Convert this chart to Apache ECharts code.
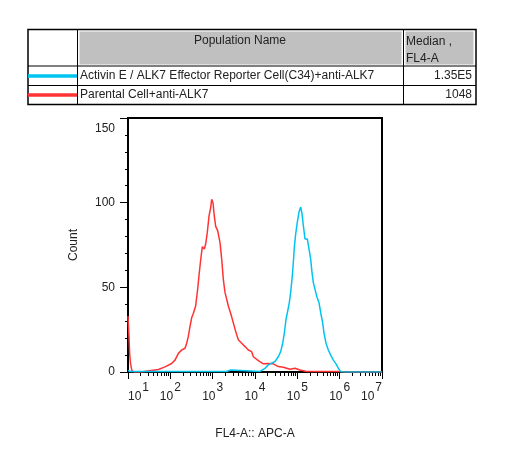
<!DOCTYPE html>
<html>
<head>
<meta charset="utf-8">
<script src="https://cdn.jsdelivr.net/npm/echarts@6/dist/echarts.min.js"></script>
<style>
html,body{margin:0;padding:0;background:#fff;}
#chart{width:505px;height:456px;}
</style>
</head>
<body>
<div id="chart"></div>
<script>
// FL4-A values (x) and counts (y)
var parentalX = [10, 10.5, 11, 11.5, 12.3, 14.1, 20, 20.9, 52.5, 74.8, 107.6, 128.8, 154.9, 185.4, 222.3, 243.2, 266.1, 291.7, 319.2, 349.1, 396.3, 442.6, 475.3, 520, 570.2, 635.3, 683.9, 748.2, 818.5, 897.5, 946.2, 1018, 1094, 1178, 1312, 1489, 1633, 1786, 1954, 2143, 2344, 2710, 3076, 3491, 4036, 4842, 5808, 6950, 8337, 9141, 11995, 15740, 20654, 27101, 35563, 46774, 67143, 88105, 115611, 165959, 1023293, 1258925, 10000000];
var parentalY = [33, 22, 10, 5, 1, 0, 0, 1, 1.5, 3, 5, 7, 11, 13, 14, 17, 21, 27, 32, 34.5, 39, 49, 57, 66, 74, 72.6, 75.6, 82.6, 92, 97, 102, 100, 92, 86, 83.5, 76.6, 66.7, 54.7, 47, 43, 39, 34, 29, 24, 19, 17, 15, 13, 12, 9, 6.7, 4.8, 5, 4.8, 3.2, 2.8, 1.6, 2.2, 1.2, 0.3, 0.3, 0, 0];

var reporterX = [10, 11.2, 2138, 2239, 2692, 2818, 13122, 17219, 20654, 24774, 29717, 35563, 40365, 45082, 49317, 53951, 59156, 64714, 69663, 76208, 80538, 85114, 91411, 100000, 109648, 120226, 128825, 138676, 151705, 172187, 191867, 206538, 222331, 238781, 261818, 286418, 325087, 356451, 397192, 426580, 475335, 539511, 613762, 707946, 820352, 928966, 1059254, 1584893, 10000000];
var reporterY = [1, 0.3, 0.3, 1.2, 1.2, 0.3, 0.3, 2.2, 4.2, 5.2, 6.2, 9, 12, 17, 23, 31, 36, 41, 47, 57, 65, 74, 81.5, 88.5, 94.5, 97.4, 93.5, 86.5, 78.6, 78.6, 77.6, 66.7, 58.7, 52.8, 48.8, 44.8, 40.9, 35, 29, 23, 17, 13, 10, 7, 4.8, 2.2, 0.2, 0, 0];

var xMajorTicks = [10, 100, 1000, 10000, 100000, 1000000, 10000000];
var xMinorTicks = [];
xMajorTicks.slice(0, -1).forEach(function (d) { for (var k = 2; k <= 9; k++) xMinorTicks.push(d * k); });
var yTicks = [0, 50, 100, 150];

var tableHeader = ['Population Name', 'Median ,', 'FL4-A'];
var populations = ['Activin E / ALK7 Effector Reporter Cell(C34)+anti-ALK7', 'Parental Cell+anti-ALK7'];
var medians = ['1.35E5', '1048'];
var colors = ['#00c4f0', '#ff3333'];

function zip(xs, ys) { return xs.map(function (x, i) { return [x, ys[i]]; }); }

var FONT = '"Liberation Sans", Arial, sans-serif';
var chart = echarts.init(document.getElementById('chart'), null, {renderer: 'canvas'});

var T = {fill: '#222', font: '12px ' + FONT};
var graphic = [
  {type: 'rect', shape: {x: 79, y: 31, width: 323, height: 34}, style: {fill: '#c0c0c0', stroke: '#fff', lineWidth: 1}},
  {type: 'rect', shape: {x: 405, y: 31, width: 69, height: 34}, style: {fill: '#c0c0c0', stroke: '#fff', lineWidth: 1}},
  {type: 'rect', shape: {x: 28, y: 29.5, width: 448, height: 75}, style: {fill: null, stroke: '#000', lineWidth: 1.5}},
  {type: 'line', shape: {x1: 28, y1: 66, x2: 476, y2: 66}, style: {stroke: '#000', lineWidth: 1}},
  {type: 'line', shape: {x1: 28, y1: 85.5, x2: 476, y2: 85.5}, style: {stroke: '#000', lineWidth: 1}},
  {type: 'line', shape: {x1: 77.5, y1: 29.5, x2: 77.5, y2: 104.5}, style: {stroke: '#000', lineWidth: 1}},
  {type: 'line', shape: {x1: 403.5, y1: 29.5, x2: 403.5, y2: 104.5}, style: {stroke: '#000', lineWidth: 1}},
  {type: 'text', x: 240, y: 41, style: Object.assign({text: tableHeader[0], textAlign: 'center', textVerticalAlign: 'middle'}, T)},
  {type: 'text', x: 406, y: 42, style: Object.assign({text: tableHeader[1], textAlign: 'left', textVerticalAlign: 'middle'}, T)},
  {type: 'text', x: 406, y: 59, style: Object.assign({text: tableHeader[2], textAlign: 'left', textVerticalAlign: 'middle'}, T)}
];
populations.forEach(function (name, i) {
  var y = 76 + i * 19;
  graphic.push({type: 'line', shape: {x1: 28, y1: y, x2: 77, y2: y}, style: {stroke: colors[i], lineWidth: 3.5}});
  graphic.push({type: 'text', x: 80, y: y, style: Object.assign({text: name, textAlign: 'left', textVerticalAlign: 'middle'}, T)});
  graphic.push({type: 'text', x: 472, y: y, style: Object.assign({text: medians[i], textAlign: 'right', textVerticalAlign: 'middle'}, T)});
});

chart.setOption({
  animation: false,
  backgroundColor: '#fff',
  graphic: graphic,
  grid: {left: 128, right: 123, top: 118, bottom: 84, show: true, borderColor: '#000', borderWidth: 2, backgroundColor: 'transparent'},
  xAxis: [{
    type: 'log', logBase: 10, min: 10, max: 10000000,
    name: 'FL4-A:: APC-A', nameLocation: 'middle', nameGap: 56,
    nameTextStyle: {fontFamily: FONT, fontSize: 12, color: '#222'},
    axisLine: {show: true, lineStyle: {color: '#000', width: 2}},
    axisTick: {show: true, length: 7, lineStyle: {color: '#000', width: 1}, customValues: xMajorTicks},
    splitLine: {show: false},
    minorTick: {show: false},
    axisLabel: {
      customValues: xMajorTicks, margin: 14, alignMinLabel: 'left', alignMaxLabel: 'right',
      formatter: function (v) { return '{b|10}{s|' + Math.round(Math.log10(v)) + '}'; },
      rich: {
        b: {fontFamily: FONT, fontSize: 12, color: '#222', lineHeight: 13, padding: [9, 1, 0, 0]},
        s: {fontFamily: FONT, fontSize: 12, color: '#222', lineHeight: 13, padding: [0, 0, 9, 0]}
      }
    }
  }, {
    type: 'log', logBase: 10, min: 10, max: 10000000, position: 'bottom',
    axisLine: {show: false},
    axisTick: {show: true, length: 4, lineStyle: {color: '#000', width: 1}, customValues: xMinorTicks},
    axisLabel: {show: false},
    splitLine: {show: false}
  }],
  yAxis: {
    type: 'value', min: 0, max: 150, interval: 50,
    name: 'Count', nameLocation: 'middle', nameGap: 48, nameRotate: 90,
    nameTextStyle: {fontFamily: FONT, fontSize: 12, color: '#222'},
    axisLine: {show: true, lineStyle: {color: '#000', width: 2}},
    axisTick: {show: true, length: 8, lineStyle: {color: '#000', width: 1}},
    minorTick: {show: true, splitNumber: 5, length: 3, lineStyle: {color: '#000', width: 1}},
    splitLine: {show: false},
    axisLabel: {
      margin: 13, fontFamily: FONT, fontSize: 12, color: '#222',
      formatter: function (v) { return v === 150 ? '{t|150}' : String(v); },
      rich: {t: {fontFamily: FONT, fontSize: 12, color: '#222', padding: [22, 0, 0, 0]}}
    }
  },
  series: [{
    type: 'line', name: populations[1], data: zip(parentalX, parentalY), xAxisIndex: 0,
    showSymbol: false, lineStyle: {color: colors[1], width: 1.5}, z: 3
  }, {
    type: 'line', name: populations[0], data: zip(reporterX, reporterY), xAxisIndex: 0,
    showSymbol: false, lineStyle: {color: colors[0], width: 1.5}, z: 4
  }]
});
</script>
</body>
</html>
